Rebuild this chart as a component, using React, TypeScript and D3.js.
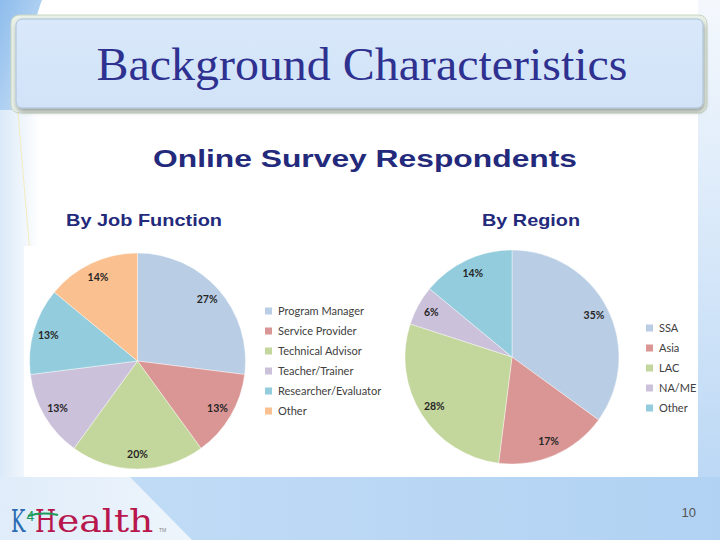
import React from "react";
import * as d3 from "d3";

const jobCategories = ["Program Manager", "Service Provider", "Technical Advisor", "Teacher/Trainer", "Researcher/Evaluator", "Other"];
const jobValues = [27, 13, 20, 13, 13, 14];
const jobColors = ["#b9cde5", "#d99694", "#c3d69b", "#ccc1da", "#93cddd", "#fac090"];

const regionCategories = ["SSA", "Asia", "LAC", "NA/ME", "Other"];
const regionValues = [35, 17, 28, 6, 14];
const regionColors = ["#b9cde5", "#d99694", "#c3d69b", "#ccc1da", "#93cddd"];

type PieProps = {
  cx: number; cy: number; r: number;
  cats: string[]; vals: number[]; colors: string[];
  lx: number; ly: number; lstep: number;
};

function Pie({ cx, cy, r, cats, vals, colors, lx, ly, lstep }: PieProps) {
  const data = cats.map((c, i) => ({ c, v: vals[i], col: colors[i] }));
  const arcs = d3.pie<{ c: string; v: number; col: string }>().sort(null).value(d => d.v)(data);
  const arc = d3.arc<d3.PieArcDatum<any>>().innerRadius(0).outerRadius(r);
  const lab = d3.arc<d3.PieArcDatum<any>>().innerRadius(r * 0.86).outerRadius(r * 0.86);
  return (
    <g>
      <g transform={`translate(${cx},${cy})`}>
        {arcs.map((a, i) => (
          <path key={i} d={arc(a) || ""} fill={a.data.col} stroke="#ffffff" strokeWidth={0.4} />
        ))}
        {arcs.map((a, i) => {
          const [x, y] = lab.centroid(a);
          return (
            <text key={"l" + i} x={x} y={y} dy="0.35em" textAnchor="middle"
              fontFamily="Lato, 'Open Sans', sans-serif" fontWeight="bold" fontSize={10.5} fill="#262626">
              {a.data.v}%
            </text>
          );
        })}
      </g>
      {cats.map((c, i) => (
        <g key={"lg" + i} transform={`translate(${lx},${ly + i * lstep})`}>
          <rect x={0} y={-3.5} width={7} height={7} fill={colors[i]} />
          <text x={13} y={0} dy="0.35em" fontFamily="Lato, 'Open Sans', sans-serif" fontSize={11} fill="#404040">{c}</text>
        </g>
      ))}
    </g>
  );
}

export default function App() {
  const logoFont = "'DejaVu Serif', 'Liberation Serif', serif";
  return (
    <svg width={720} height={540} viewBox="0 0 720 540"
      style={{ position: "absolute", left: 0, top: 0, display: "block" }}>
      <defs>
        <linearGradient id="leftBg" x1="0" y1="0" x2="1" y2="0">
          <stop offset="0" stopColor="#dbe9f8" />
          <stop offset="1" stopColor="#ffffff" />
        </linearGradient>
        <linearGradient id="rightBg" x1="0" y1="0" x2="0" y2="1">
          <stop offset="0" stopColor="#f4f8fd" />
          <stop offset="1" stopColor="#b5d4f4" />
        </linearGradient>
        <linearGradient id="bottomBg" x1="0" y1="0" x2="1" y2="0">
          <stop offset="0" stopColor="#c4ddf6" />
          <stop offset="1" stopColor="#b1d2f3" />
        </linearGradient>
        <linearGradient id="diag" x1="0" y1="0" x2="1" y2="0">
          <stop offset="0" stopColor="#dfecf9" />
          <stop offset="1" stopColor="#eef5fc" />
        </linearGradient>
        <linearGradient id="corner" x1="0" y1="0" x2="1" y2="1">
          <stop offset="0" stopColor="#8dbcec" />
          <stop offset="1" stopColor="#cfe3f7" />
        </linearGradient>
        <linearGradient id="titleFill" x1="0" y1="0" x2="0" y2="1">
          <stop offset="0" stopColor="#d9e8fa" />
          <stop offset="1" stopColor="#d2e3f8" />
        </linearGradient>
        <filter id="shadow" x="-5%" y="-20%" width="110%" height="150%">
          <feGaussianBlur in="SourceAlpha" stdDeviation="2.5" />
          <feOffset dx="1" dy="3" />
          <feComponentTransfer><feFuncA type="linear" slope="0.35" /></feComponentTransfer>
          <feMerge><feMergeNode /><feMergeNode in="SourceGraphic" /></feMerge>
        </filter>
      </defs>

      {/* page background */}
      <rect x={0} y={0} width={720} height={540} fill="#ffffff" />
      <rect x={0} y={0} width={40} height={480} fill="url(#leftBg)" />
      <path d="M0,0 L42,0 C34,20 26,60 22,110 L0,110 Z" fill="url(#corner)" />
      <rect x={698} y={0} width={22} height={540} fill="url(#rightBg)" />
      <path d="M18,112 C22,160 26,210 30,252" fill="none" stroke="#f3ecc0" strokeWidth={1} />

      {/* bottom band */}
      <rect x={0} y={477} width={720} height={63} fill="url(#bottomBg)" />
      <path d="M0,477 L130,477 L192,540 L0,540 Z" fill="url(#diag)" />

      {/* title box */}
      <rect x={11} y={15} width={696} height={98} rx={8} fill="#e9f1e9" stroke="#c8d6c2" strokeWidth={1} />
      <rect x={16} y={19} width={687} height={89} rx={6} fill="url(#titleFill)" stroke="#a9c0d6" strokeWidth={1} filter="url(#shadow)" />
      <text x={362} y={80} textAnchor="middle" fontFamily="'Liberation Serif', 'DejaVu Serif', serif"
        fontSize={46} fill="#2e3190" textLength={531} lengthAdjust="spacingAndGlyphs">Background Characteristics</text>

      {/* headings */}
      <text x={365} y={167} textAnchor="middle" fontFamily="'Liberation Sans', Arial, sans-serif" fontWeight="bold"
        fontSize={24} fill="#232a7c" textLength={424} lengthAdjust="spacingAndGlyphs">Online Survey Respondents</text>
      <text x={66} y={226} fontFamily="'Liberation Sans', Arial, sans-serif" fontWeight="bold"
        fontSize={17} fill="#232a7c" textLength={156} lengthAdjust="spacingAndGlyphs">By Job Function</text>
      <text x={482} y={226} fontFamily="'Liberation Sans', Arial, sans-serif" fontWeight="bold"
        fontSize={17} fill="#232a7c" textLength={98} lengthAdjust="spacingAndGlyphs">By Region</text>

      {/* chart area */}
      <rect x={24} y={246} width={674} height={231} fill="#ffffff" />

      <Pie cx={137.5} cy={361} r={108} cats={jobCategories} vals={jobValues} colors={jobColors}
        lx={265} ly={311} lstep={20} />
      <Pie cx={512} cy={357} r={107} cats={regionCategories} vals={regionValues} colors={regionColors}
        lx={646} ly={328} lstep={20} />

      {/* footer */}
      <text x={696} y={517} textAnchor="end" fontFamily="'Liberation Sans', Arial, sans-serif" fontSize={13} fill="#555555">10</text>
      <g transform="translate(11,532) scale(0.6,1)">
        <text x={0} y={0} fontFamily={logoFont} fontSize={32} fill="#2b6cb3">K</text>
      </g>
      <text x={26.5} y={521} fontFamily="'Liberation Sans', Arial, sans-serif" fontSize={14} fill="#1d9a5b">4</text>
      <g transform="translate(35,532) scale(0.76,1)">
        <text x={0} y={0} fontFamily={logoFont} fontSize={32} fill="#b8174d">H</text>
      </g>
      <g transform="translate(57,532) scale(1.18,1)">
        <text x={0} y={0} fontFamily={logoFont} fontSize={32} fill="#b8174d">ealth</text>
      </g>
      <text x={159} y={532} fontFamily="'Liberation Sans', Arial, sans-serif" fontSize={5} fill="#888888">TM</text>
      <path d="M28,516 C38,513 48,513 58,515" fill="none" stroke="#1d9a5b" strokeWidth={2} />
    </svg>
  );
}
